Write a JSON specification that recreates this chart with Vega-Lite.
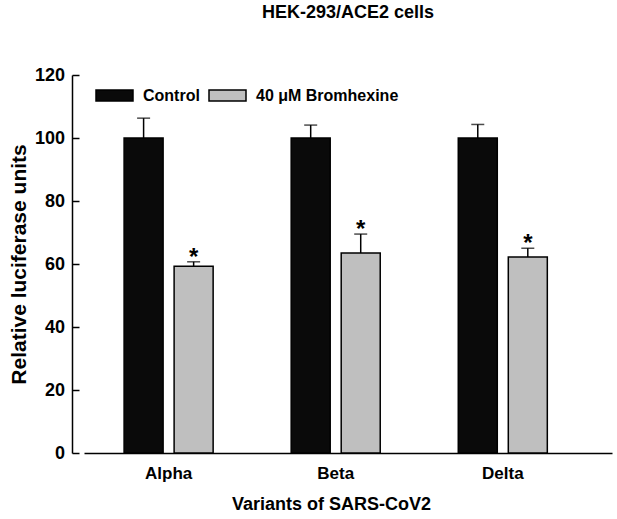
{
  "$schema": "https://vega.github.io/schema/vega-lite/v6.json",
  "width": 528,
  "height": 378,
  "autosize": {"type": "none"},
  "padding": {"left": 84, "top": 75, "right": 5, "bottom": 66},
  "background": "white",
  "config": {"font": "Liberation Sans", "view": {"stroke": null}},
  "title": {"text": "HEK-293/ACE2 cells", "fontSize": 18, "fontWeight": "bold", "offset": 44, "anchor": "middle", "color": "black"},
  "data": {"values": [
    {"variant": "Alpha", "treatment": "Control", "mean": 100, "upper": 106.3, "sig": ""},
    {"variant": "Alpha", "treatment": "40 μM Bromhexine", "mean": 59.3, "upper": 60.7, "sig": "*"},
    {"variant": "Beta", "treatment": "Control", "mean": 100, "upper": 104.1, "sig": ""},
    {"variant": "Beta", "treatment": "40 μM Bromhexine", "mean": 63.5, "upper": 69.5, "sig": "*"},
    {"variant": "Delta", "treatment": "Control", "mean": 100, "upper": 104.3, "sig": ""},
    {"variant": "Delta", "treatment": "40 μM Bromhexine", "mean": 62.2, "upper": 65.0, "sig": "*"}
  ]},
  "encoding": {
    "x": {"field": "variant", "type": "nominal", "sort": ["Alpha", "Beta", "Delta"],
      "scale": {"paddingInner": 0, "paddingOuter": 0.08, "align": 0.04},
      "axis": {"title": "Variants of SARS-CoV2", "labelAngle": 0, "ticks": false, "domainColor": "black", "domainWidth": 1.5,
        "labelFontSize": 17, "labelFontWeight": "bold", "labelColor": "black", "labelPadding": 12,
        "titleFontSize": 18, "titleFontWeight": "bold", "titleColor": "black", "titlePadding": 14, "titleX": 247}},
    "xOffset": {"field": "treatment", "type": "nominal", "sort": ["Control", "40 μM Bromhexine"],
      "scale": {"paddingInner": 0.22, "paddingOuter": 0.78}}
  },
  "layer": [
    {"mark": {"type": "bar", "stroke": "black", "strokeWidth": 1.5},
      "encoding": {
        "y": {"field": "mean", "type": "quantitative", "scale": {"domain": [0, 120]},
          "axis": {"title": "Relative luciferase units", "values": [0, 20, 40, 60, 80, 100, 120], "offset": 12, "grid": false,
            "domainColor": "black", "domainWidth": 1.5, "tickColor": "black", "tickWidth": 1.5, "tickSize": -7,
            "labelPadding": 14.5, "labelFontSize": 18, "labelFontWeight": "bold", "labelColor": "black",
            "titleFontSize": 21, "titleFontWeight": "bold", "titleColor": "black", "titlePadding": 5}},
        "color": {"field": "treatment", "type": "nominal",
          "scale": {"domain": ["Control", "40 μM Bromhexine"], "range": ["#0a0a0a", "#bfbfbf"]},
          "legend": {"orient": "none", "legendX": 11, "legendY": 1, "direction": "horizontal", "title": null,
            "symbolType": "M-1,-0.297H1V0.297H-1Z", "symbolSize": 1369, "symbolStrokeColor": "black", "symbolStrokeWidth": 1.5,
            "symbolOpacity": 1, "labelFontSize": 16, "labelFontWeight": "bold", "labelColor": "black", "labelOffset": 9,
            "columnPadding": 6, "padding": 0}}
      }},
    {"mark": {"type": "rule", "color": "black", "strokeWidth": 1.5},
      "encoding": {"y": {"field": "mean", "type": "quantitative"}, "y2": {"field": "upper"}}},
    {"mark": {"type": "tick", "color": "black", "thickness": 1.5, "size": 13},
      "encoding": {"y": {"field": "upper", "type": "quantitative"}}},
    {"mark": {"type": "text", "fontSize": 24, "fontWeight": "bold", "color": "black", "dy": 3, "baseline": "alphabetic"},
      "encoding": {"y": {"field": "upper", "type": "quantitative"}, "text": {"field": "sig"}}}
  ]
}
